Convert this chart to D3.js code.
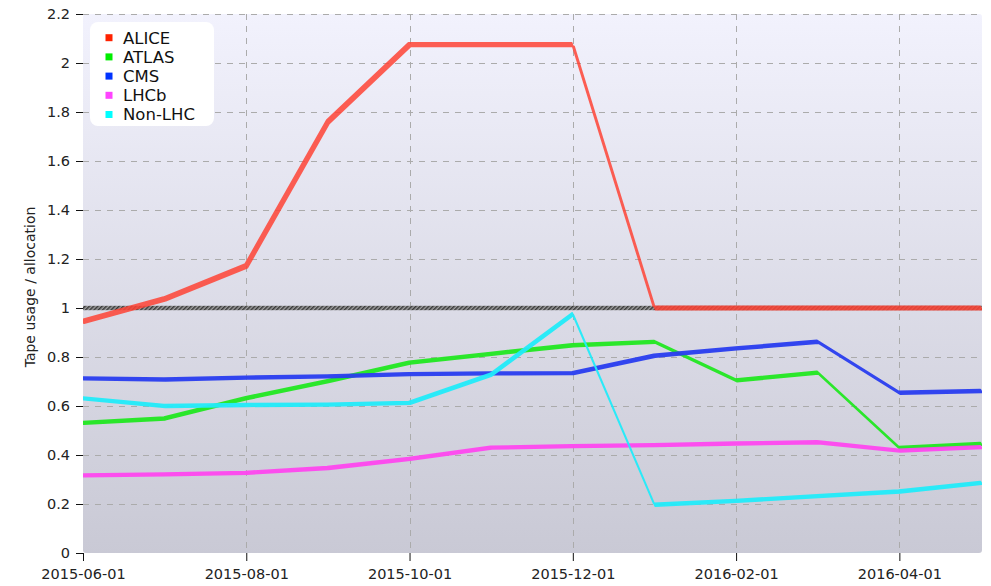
<!DOCTYPE html>
<html>
<head>
<meta charset="utf-8">
<script src="https://cdn.jsdelivr.net/npm/d3@7"></script>
<style>
  html, body { margin: 0; padding: 0; background: #ffffff; }
  svg { display: block; font-family: "DejaVu Sans", Verdana, sans-serif; }
</style>
</head>
<body>
<svg id="chart" width="991" height="586"></svg>
<script>
// ---------------- data ----------------
const months = ["2015-06","2015-07","2015-08","2015-09","2015-10","2015-11",
                "2015-12","2016-01","2016-02","2016-03","2016-04","2016-05"];
const xTickLabels = ["2015-06-01","2015-08-01","2015-10-01","2015-12-01","2016-02-01","2016-04-01"];
const yTickValues = [0, 0.2, 0.4, 0.6, 0.8, 1, 1.2, 1.4, 1.6, 1.8, 2, 2.2];
const seriesNames = ["ALICE", "ATLAS", "CMS", "LHCb", "Non-LHC"];
const aliceValues  = [0.945, 1.037, 1.172, 1.76, 2.075, 2.075, 2.075, 1.0, 1.0, 1.0, 1.0, 1.0];
const atlasValues  = [0.531, 0.549, 0.632, 0.702, 0.777, 0.813, 0.848, 0.862, 0.705, 0.736, 0.429, 0.445];
const cmsValues    = [0.713, 0.708, 0.716, 0.721, 0.730, 0.733, 0.734, 0.805, 0.835, 0.862, 0.654, 0.661];
const lhcbValues   = [0.317, 0.321, 0.327, 0.347, 0.384, 0.430, 0.436, 0.440, 0.447, 0.452, 0.418, 0.432];
const nonLhcValues = [0.631, 0.600, 0.604, 0.606, 0.613, 0.728, 0.975, 0.197, 0.213, 0.232, 0.251, 0.286];
const allocationLevel = 1;
const yLabel = "Tape usage / allocation";

// ---------------- styles ----------------
const lineColors   = ["#ff4436", "#22e822", "#2a3ef0", "#ff48f0", "#22ecfa"];
const lineOpacity  = [0.85, 0.95, 0.95, 0.95, 0.95];
const legendColors = ["#ff2200", "#00ee00", "#0033ff", "#ff44ff", "#00ffff"];
const nibA         = [2.2, 1.4, 1.4, 1.4, 1.4];   // horizontal part of the pen nib
const nibB         = [3.4, 2.5, 2.6, 2.5, 2.5];   // vertical part of the pen nib

const plot = { left: 83, right: 982, top: 14, bottom: 553 };

const svg = d3.select("#chart");
const defs = svg.append("defs");

const grad = defs.append("linearGradient").attr("id", "bg").attr("x1", 0).attr("y1", 0).attr("x2", 0).attr("y2", 1);
grad.append("stop").attr("offset", "0%").attr("stop-color", "#f2f2fd");
grad.append("stop").attr("offset", "100%").attr("stop-color", "#c9c9d5");

defs.append("clipPath").attr("id", "clip").append("rect")
  .attr("x", plot.left).attr("y", plot.top)
  .attr("width", plot.right - plot.left).attr("height", plot.bottom - plot.top);

const pat = defs.append("pattern").attr("id", "hatch").attr("patternUnits", "userSpaceOnUse")
  .attr("width", 3).attr("height", 3).attr("patternTransform", "rotate(45)");
pat.append("rect").attr("width", 3).attr("height", 3).attr("fill", "#a0a0a0");
pat.append("rect").attr("width", 1.5).attr("height", 3).attr("fill", "#383838");

// ---------------- scales ----------------
const x = d3.scalePoint().domain(months).range([plot.left, 981]);
const y = d3.scaleLinear().domain([0, 2.2]).range([plot.bottom, plot.top]);

// background
svg.append("rect")
  .attr("x", plot.left).attr("y", plot.top)
  .attr("width", plot.right - plot.left).attr("height", plot.bottom - plot.top)
  .attr("rx", 3).attr("fill", "url(#bg)");

const xTickKeys = xTickLabels.map(t => t.slice(0, 7));

// grid
const grid = svg.append("g").attr("stroke", "#ababab").attr("stroke-width", 1).attr("stroke-dasharray", "6,6");
grid.selectAll("line.h").data(yTickValues.filter(v => v > 0)).join("line")
  .attr("x1", plot.left).attr("x2", plot.right)
  .attr("y1", d => Math.round(y(d)) + 0.5).attr("y2", d => Math.round(y(d)) + 0.5);
grid.selectAll("line.v").data(xTickKeys.slice(1)).join("line")
  .attr("y1", plot.top).attr("y2", plot.bottom)
  .attr("x1", d => Math.round(x(d)) + 0.5).attr("x2", d => Math.round(x(d)) + 0.5);

// axes
const xAxis = d3.axisBottom(x).tickValues(xTickKeys)
  .tickFormat(m => xTickLabels[xTickKeys.indexOf(m)]).tickSize(8).tickSizeOuter(0).tickPadding(8);
const gx = svg.append("g").attr("transform", `translate(0,${plot.bottom})`).call(xAxis);
gx.select(".domain").remove();
gx.selectAll("text").attr("font-size", 14.5).attr("fill", "#222").attr("font-family", "DejaVu Sans");
gx.selectAll("line").attr("stroke", "#111");

const yAxis = d3.axisLeft(y).tickValues(yTickValues)
  .tickFormat(d => String(+d.toFixed(1))).tickSize(7).tickSizeOuter(0).tickPadding(6);
const gy = svg.append("g").attr("transform", `translate(${plot.left},0)`).call(yAxis);
gy.select(".domain").remove();
gy.selectAll("text").attr("font-size", 14.5).attr("fill", "#222").attr("font-family", "DejaVu Sans");
gy.selectAll("line").attr("stroke", "#111");

svg.append("text")
  .attr("transform", `translate(35,287) rotate(-90)`)
  .attr("text-anchor", "middle")
  .attr("font-size", 14)
  .attr("fill", "#222")
  .text(yLabel);

// ---------------- lines ----------------
const plotG = svg.append("g").attr("clip-path", "url(#clip)");

// allocation reference line
plotG.append("rect")
  .attr("x", plot.left).attr("width", plot.right - plot.left)
  .attr("y", y(allocationLevel) - 2.2).attr("height", 4.4)
  .attr("fill", "url(#hatch)");

const allSeries = [aliceValues, atlasValues, cmsValues, lhcbValues, nonLhcValues];

allSeries.forEach((vals, i) => {
  const a = nibA[i] / 2, b = nibB[i] / 2;
  const pts = months.map((m, j) => ({ m, v: vals[j] }));
  const ribbon = d3.area()
    .x0(d => x(d.m) - a).y0(d => y(d.v) - b)
    .x1(d => x(d.m) + a).y1(d => y(d.v) + b);
  plotG.append("g").attr("opacity", lineOpacity[i])
    .append("path")
    .datum(pts)
    .attr("d", ribbon)
    .attr("fill", lineColors[i])
    .attr("stroke", lineColors[i])
    .attr("stroke-width", 1.8)
    .attr("stroke-linejoin", "round")
    .attr("fill-rule", "nonzero");
});

// ---------------- legend ----------------
const lg = svg.append("g");
lg.append("rect").attr("x", 90).attr("y", 22).attr("width", 124).attr("height", 104)
  .attr("rx", 8).attr("fill", "#ffffff");
seriesNames.forEach((name, i) => {
  const cy = 37.7 + i * 19.2;
  lg.append("rect").attr("x", 105.5).attr("y", cy - 3.5).attr("width", 7).attr("height", 7)
    .attr("fill", legendColors[i]);
  lg.append("text").attr("x", 123).attr("y", cy).attr("dy", "0.36em")
    .attr("font-size", 16.5).attr("fill", "#111").text(name);
});
</script>
</body>
</html>
